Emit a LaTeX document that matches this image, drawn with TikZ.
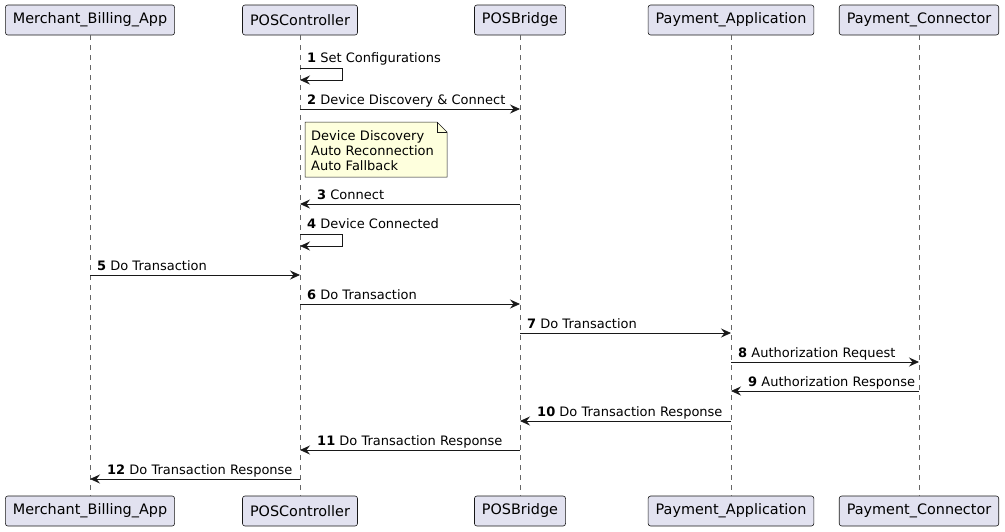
\documentclass[tikz,border=0pt]{standalone}
\usepackage{fontspec}
\setmainfont{DejaVu Sans}
\usetikzlibrary{arrows.meta, calc}
\definecolor{partfill}{HTML}{E2E2F0}
\definecolor{linedk}{HTML}{181818}
\definecolor{notefill}{HTML}{FEFFDD}
\definecolor{lifegray}{HTML}{666666}

\tikzset{
  part/.style={draw=linedk, fill=partfill, rounded corners=2.5pt, line width=0.6pt,
    minimum height=30pt, inner xsep=7.5pt, font=\fontsize{14.4}{16}\selectfont},
  life/.style={lifegray, line width=0.5pt, dash pattern=on 5pt off 5pt},
  msg/.style={linedk, line width=0.8pt, -{Stealth[length=10pt, width=9pt, inset=3.5pt]}},
  msglbl/.style={font=\fontsize{13}{15}\selectfont, anchor=base west, inner sep=0pt},
  notetxt/.style={font=\fontsize{13}{15}\selectfont, anchor=north west, align=left,
    text width=130pt, inner xsep=6pt, inner ysep=8pt},
}

\begin{document}
\begin{tikzpicture}[x=1pt, y=-1pt]
\useasboundingbox (0,0) rectangle (1005,531);

% Participants, top and bottom, with their lifelines
\foreach \n/\x/\t in {mba/90/Merchant\_Billing\_App, pc/300/POSController,
    pb/520/POSBridge, pa/731/Payment\_Application, pcn/919/Payment\_Connector} {
  \node[part] (\n) at (\x,20) {\t};
  \node[part] (\n-b) at (\x,511) {\t};
  \draw[life] (\n.south) -- (\n-b.north);
}

% 1 and 4: self messages on POSController
\draw[msg] (pc |- 0,68) -- ++(42,0) -- ++(0,12) -- (pc |- 0,80);
\node[msglbl] (l1) at ($(pc |- 0,62)+(7,0)$) {\textbf{1} Set Configurations};
\draw[msg] (pc |- 0,234) -- ++(42,0) -- ++(0,12) -- (pc |- 0,246);
\node[msglbl] (l4) at ($(pc |- 0,228)+(7,0)$) {\textbf{4} Device Connected};

% Note
\coordinate (nt) at (305,122);
\filldraw[draw=linedk, fill=notefill, line width=0.5pt]
  (nt) -- ++(132,0) -- ++(10,10) -- ++(0,45) -- ++(-142,0) -- cycle;
\draw[linedk, line width=0.5pt] ($(nt)+(132,0)$) -- ++(0,10) -- ++(10,0);
\node[notetxt] (note) at (nt) {Device Discovery\\Auto Reconnection\\Auto Fallback};

% Messages: from/to/y/label side/offset/text
\foreach \f/\t/\y/\s/\o/\k/\txt in {
    pc/pb/109/pc/7/2/Device Discovery \& Connect,
    pb/pc/204/pc/17/3/Connect,
    mba/pc/275/mba/7/5/Do Transaction,
    pc/pb/304/pc/7/6/Do Transaction,
    pb/pa/333/pb/7/7/Do Transaction,
    pa/pcn/362/pa/7/8/Authorization Request,
    pcn/pa/391/pa/17/9/Authorization Response,
    pa/pb/421/pb/17/10/Do Transaction Response,
    pb/pc/450/pc/17/11/Do Transaction Response,
    pc/mba/479/mba/17/12/Do Transaction Response} {
  \draw[msg] (\f |- 0,\y) -- (\t |- 0,\y);
  \node[msglbl] (l\k) at ($(\s |- 0,\y)+(\o,-5)$) {\textbf{\k} \txt};
}

\end{tikzpicture}
\end{document}
